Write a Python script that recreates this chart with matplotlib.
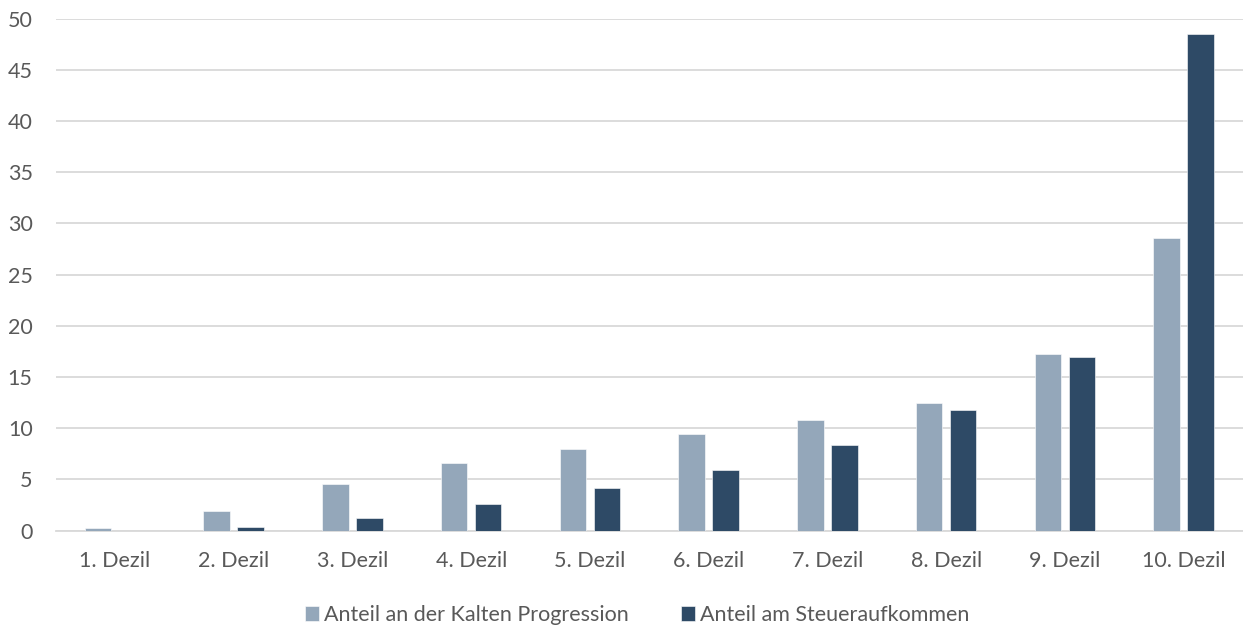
import matplotlib
matplotlib.use("Agg")
import matplotlib.pyplot as plt
import numpy as np

categories = ["1. Dezil", "2. Dezil", "3. Dezil", "4. Dezil", "5. Dezil",
              "6. Dezil", "7. Dezil", "8. Dezil", "9. Dezil", "10. Dezil"]
kalte_progression = [0.3, 1.9, 4.6, 6.6, 8.0, 9.4, 10.8, 12.5, 17.2, 28.6]
steueraufkommen = [0.0, 0.35, 1.2, 2.6, 4.2, 5.9, 8.4, 11.8, 17.0, 48.5]
series_names = ["Anteil an der Kalten Progression", "Anteil am Steueraufkommen"]
yticks = [0, 5, 10, 15, 20, 25, 30, 35, 40, 45, 50]

plt.rcParams['font.family'] = ['Lato', 'DejaVu Sans']

fig = plt.figure(figsize=(12.43, 6.28), dpi=100)
ax = fig.add_axes([0.0447, 0.155, 0.9553, 0.8155])

x = np.arange(len(categories))
w = 0.224
off = 0.143
light = "#94A7BA"
dark = "#2E4A66"
ax.bar(x - off, kalte_progression, w, color=light, label=series_names[0],
       edgecolor="white", linewidth=0.4, zorder=3)
ax.bar(x + off, steueraufkommen, w, color=dark, label=series_names[1],
       edgecolor="white", linewidth=0.4, zorder=3)

ax.set_xlim(-0.5, len(categories) - 0.5)
ax.set_ylim(0, 50)
ax.set_yticks(yticks)
ax.set_xticks(x)
ax.set_xticklabels(categories)
ax.yaxis.grid(True, color="#d9d9d9", linewidth=1.3, zorder=0)
ax.set_axisbelow(True)
for s in ["top", "right", "left"]:
    ax.spines[s].set_visible(False)
ax.spines["bottom"].set_color("#d9d9d9")
ax.spines["bottom"].set_linewidth(1.3)
ax.tick_params(axis="both", length=0, labelsize=15.5, colors="#595959")
ax.tick_params(axis="y", pad=16.5)
ax.tick_params(axis="x", pad=15)

fig.legend(loc="center", bbox_to_anchor=(637 / 1243, 13 / 628), ncol=2,
           frameon=False, fontsize=15.5, handlelength=0.65, handleheight=0.65,
           handletextpad=0.25, columnspacing=2.4, labelcolor="#595959")

fig.savefig("out.png", dpi=100, facecolor="white")
